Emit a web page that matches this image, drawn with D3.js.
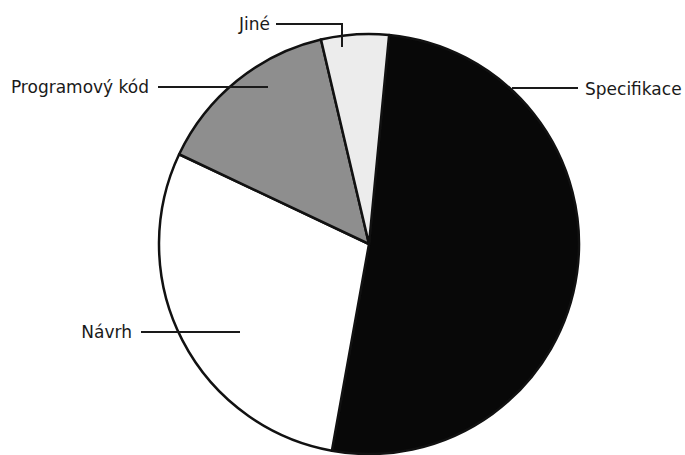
<!DOCTYPE html>
<html>
<head>
<meta charset="utf-8">
<script src="https://cdn.jsdelivr.net/npm/d3@7"></script>
<style>
  body { margin: 0; background: #fff; }
  text { font-family: "DejaVu Sans", sans-serif; fill: #1a1a1a; }
</style>
</head>
<body>
<svg id="chart" width="685" height="455"></svg>
<script>
// data (share in %)
const categories = ["Specifikace", "Návrh", "Programový kód", "Jiné"];
const values = [51.3, 29.2, 14.3, 5.2];
const colors = ["#080808", "#ffffff", "#8e8e8e", "#ececec"];

const width = 685, height = 455;
const cx = 369, cy = 244, radius = 210;

const svg = d3.select("#chart");

const pie = d3.pie()
  .sort(null)
  .value(d => d)
  .startAngle(5.5 * Math.PI / 180)
  .endAngle(5.5 * Math.PI / 180 + 2 * Math.PI);

const arc = d3.arc().innerRadius(0).outerRadius(radius);

const pieG = svg.append("g")
  .attr("transform", `translate(${cx}, ${cy})`);

pieG.selectAll(".slice")
  .data(pie(values))
  .enter()
  .append("path")
  .attr("class", "slice")
  .attr("d", arc)
  .attr("fill", (d, i) => colors[i])
  .attr("stroke", "#111")
  .attr("stroke-width", 2.5)
  .attr("stroke-linejoin", "round");

// leader lines + labels (layout, relative to page)
const labelLayout = {
  "Specifikace":    { text: [585, 95], anchor: "start", line: [[578, 88], [512, 88]] },
  "Návrh":          { text: [132, 338], anchor: "end", line: [[141, 332], [240, 332]] },
  "Programový kód": { text: [149, 93], anchor: "end", line: [[158, 87], [268, 87]] },
  "Jiné":           { text: [270, 30], anchor: "end", line: [[276, 24], [342, 24], [342, 47]] }
};

const labelG = svg.append("g");

categories.forEach(name => {
  const l = labelLayout[name];
  labelG.append("path")
    .attr("d", d3.line()(l.line))
    .attr("fill", "none")
    .attr("stroke", "#1a1a1a")
    .attr("stroke-width", 2);
  labelG.append("text")
    .attr("x", l.text[0])
    .attr("y", l.text[1])
    .attr("text-anchor", l.anchor)
    .style("font-size", "17px")
    .text(name);
});
</script>
</body>
</html>
